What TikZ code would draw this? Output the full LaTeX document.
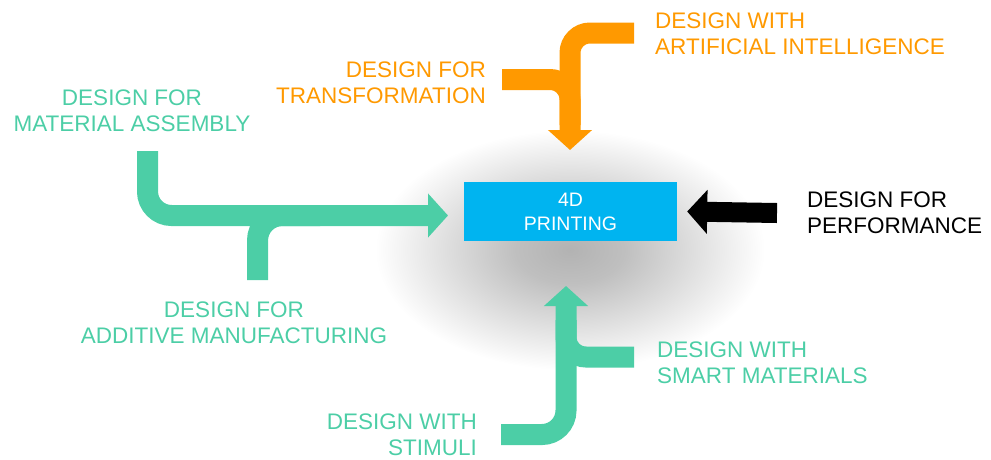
\documentclass[tikz,border=0pt]{standalone}
\usepackage{fontspec}
\setmainfont{Liberation Sans}
\usetikzlibrary{arrows.meta}
\usetikzlibrary{positioning}
\definecolor{dgreen}{RGB}{76,206,166}
\definecolor{dorange}{RGB}{255,153,0}
\definecolor{dblue}{RGB}{0,180,240}
\pgfdeclareradialshading{glow}{\pgfpoint{0bp}{0bp}}{color(0bp)=(black!30); color(7bp)=(black!25); color(25bp)=(white); color(50bp)=(white)}

\begin{document}
\begin{tikzpicture}[x=1pt, y=-1pt,
 labelnode/.style={inner sep=0pt, font=\fontsize{22.5}{26}\selectfont},
 boxnode/.style={rectangle, fill=dblue, text=white, minimum width=213pt, minimum height=59pt, align=center, font=\fontsize{19.5}{24}\selectfont},
 widearrow/.style={line width=21pt, -{Triangle[width=43pt, length=20pt]}},
 widebranch/.style={line width=21pt},
 ]
 \useasboundingbox (0,0) rectangle (991,459);
 %Shadow
 \shade[shading=glow] (570,250) ellipse [x radius=195, y radius=120];

 %Nodes
 \node[boxnode]                               (print_node)  at (570.5,211.5) {4D\\PRINTING};
 \node[labelnode, text=dorange, anchor=north west, align=left]  (ai_node)   at (655,13)  {DESIGN WITH\\ARTIFICIAL INTELLIGENCE};
 \node[labelnode, text=dorange, anchor=north east, align=right] (trans_node) at (486,62)  {DESIGN FOR\\TRANSFORMATION};
 \node[labelnode, text=dgreen, anchor=north, align=center]      (mat_node)  at (132,90)  {DESIGN FOR\\MATERIAL ASSEMBLY};
 \node[labelnode, text=black, anchor=north west, align=left]    (perf_node) at (807,192) {DESIGN FOR\\PERFORMANCE};
 \node[labelnode, text=dgreen, anchor=north, align=center]      (add_node)  at (234,302) {DESIGN FOR\\ADDITIVE MANUFACTURING};
 \node[labelnode, text=dgreen, anchor=north west, align=left]   (smart_node) at (657,342) {DESIGN WITH\\SMART MATERIALS};
 \node[labelnode, text=dgreen, anchor=north east, align=right]  (stim_node) at (477,414) {DESIGN WITH\\STIMULI};

 %Arrow ends
 \coordinate (ai_tail)    at (634,33);
 \coordinate (trans_tail) at (502,79.5);
 \coordinate (top_tip)    at (570,150);
 \coordinate (mat_tail)   at (147.5,151);
 \coordinate (add_tail)   at (257.5,280);
 \coordinate (left_tip)   at (448,215.5);
 \coordinate (stim_tail)  at (501,434.5);
 \coordinate (smart_tail) at (634,357);
 \coordinate (bottom_tip) at (566,286);
 \coordinate (perf_tail)  at (777,213);

 %Lines
 \draw[widebranch, dorange, rounded corners=20pt] (trans_tail) -- (570,79.5) -- (570,125);
 \draw[widearrow, dorange, rounded corners=20pt] (ai_tail) -| (top_tip);
 \draw[widebranch, dgreen, rounded corners=25pt] (add_tail) -- (257.5,215.5) -- (320,215.5);
 \draw[widearrow, dgreen, rounded corners=24pt] (mat_tail) |- (left_tip);
 \draw[widebranch, dgreen, rounded corners=20pt] (smart_tail) -- (566,357) -- (566,320);
 \draw[widearrow, dgreen, rounded corners=24pt] (stim_tail) -| (bottom_tip);
 \draw[widearrow, black, line width=20pt] (perf_tail) -- ([xshift=10pt]print_node.east);
\end{tikzpicture}
\end{document}
